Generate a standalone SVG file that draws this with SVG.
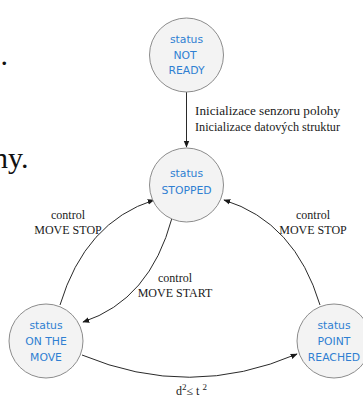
<svg xmlns="http://www.w3.org/2000/svg" width="363" height="399" viewBox="0 0 363 399">
  <defs>
    <marker id="arrow" viewBox="0 0 10 10" refX="9" refY="5" markerWidth="7" markerHeight="7" orient="auto" markerUnits="userSpaceOnUse">
      <path d="M0,1 L10,5 L0,9 z" fill="#1a1a1a"/>
    </marker>
    <style>
      .state circle { fill: #f3f3f3; stroke: #8c8c8c; stroke-width: 1; }
      .state text { font-family: "DejaVu Sans", Verdana, sans-serif; font-size: 10.8px; fill: #2f7fd2; text-anchor: middle; }
      .edge { fill: none; stroke: #2a2a2a; stroke-width: 1; marker-end: url(#arrow); }
      .label { font-family: "Liberation Serif", "Times New Roman", serif; font-size: 12px; fill: #1a1a1a; }
      .label.c { text-anchor: middle; }
      .page { font-family: "Liberation Serif", "Times New Roman", serif; font-size: 30px; fill: #111; }
    </style>
  </defs>

  <rect width="363" height="399" fill="#ffffff"/>

  <!-- surrounding page text -->
  <text class="page" x="0.5" y="64.5">.</text>
  <text class="page" x="-7" y="168">ny.</text>

  <!-- transitions -->
  <g id="connectors">
    <path class="edge" d="M186.5,92 L186.5,147"/>
    <path class="edge" d="M172,218 Q150,300 83,322"/>
    <path class="edge" d="M60,305 Q85,222 154,200"/>
    <path class="edge" d="M320,305 Q295,222 224,200"/>
    <path class="edge" d="M82,355 Q190,400 297,354"/>

    <text class="label" x="195" y="115" font-size="12.5" textLength="145" lengthAdjust="spacingAndGlyphs">Inicializace senzoru polohy</text>
    <text class="label" x="195" y="131" font-size="12.5" textLength="145" lengthAdjust="spacingAndGlyphs">Inicializace datových struktur</text>

    <text class="label c" x="68" y="219">control</text>
    <text class="label c" x="68" y="234">MOVE STOP</text>

    <text class="label c" x="313" y="219">control</text>
    <text class="label c" x="313" y="234">MOVE STOP</text>

    <text class="label c" x="175" y="282">control</text>
    <text class="label c" x="175" y="297">MOVE START</text>

    <text class="label" x="176" y="395">d<tspan font-size="9" dy="-5">2</tspan><tspan dy="5">≤ t </tspan><tspan font-size="9" dy="-5">2</tspan></text>
  </g>

  <!-- states -->
  <g id="not-ready" class="state">
    <circle cx="186.5" cy="55" r="37"/>
    <text x="186.5" y="43">status</text>
    <text x="185" y="58.5">NOT</text>
    <text x="186.5" y="74">READY</text>
  </g>

  <g id="stopped" class="state">
    <circle cx="186.5" cy="185" r="37"/>
    <text x="186.5" y="177">status</text>
    <text x="186.5" y="194">STOPPED</text>
  </g>

  <g id="on-the-move" class="state">
    <circle cx="46" cy="341" r="37"/>
    <text x="46" y="329">status</text>
    <text x="46" y="345">ON THE</text>
    <text x="46" y="361">MOVE</text>
  </g>

  <g id="point-reached" class="state">
    <circle cx="334" cy="341" r="37"/>
    <text x="334" y="329">status</text>
    <text x="334" y="345">POINT</text>
    <text x="334" y="361">REACHED</text>
  </g>
</svg>
